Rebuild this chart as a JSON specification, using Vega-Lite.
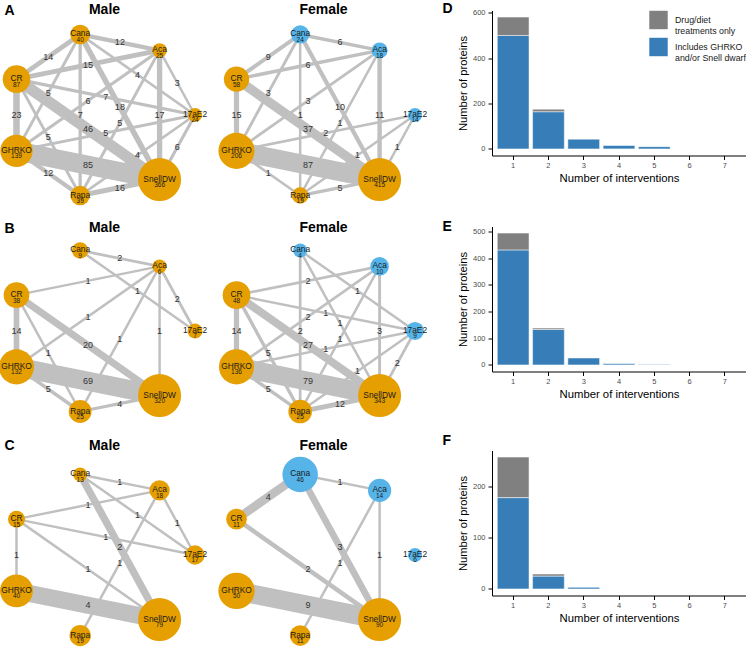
{
  "$schema": "https://vega.github.io/schema/vega-lite/v6.json",
  "padding": {"left": -22, "top": 1.5, "right": 0, "bottom": 0},
  "datasets": {
    "layout": [
      {"node": "17aE2", "cx": 1, "cy": 0},
      {"node": "Aca", "cx": 0.623, "cy": 0.782},
      {"node": "Cana", "cx": -0.223, "cy": 0.975},
      {"node": "CR", "cx": -0.901, "cy": 0.434},
      {"node": "GHRKO", "cx": -0.901, "cy": -0.434},
      {"node": "Rapa", "cx": -0.223, "cy": -0.975},
      {"node": "SnellDW", "cx": 0.623, "cy": -0.782}
    ],
    "nodes": [
      {"panel": "A", "sex": "Male", "node": "Cana", "proteins": 40, "effect": "Extends lifespan"},
      {"panel": "A", "sex": "Male", "node": "Aca", "proteins": 25, "effect": "Extends lifespan"},
      {"panel": "A", "sex": "Male", "node": "17aE2", "proteins": 24, "effect": "Extends lifespan"},
      {"panel": "A", "sex": "Male", "node": "SnellDW", "proteins": 366, "effect": "Extends lifespan"},
      {"panel": "A", "sex": "Male", "node": "Rapa", "proteins": 39, "effect": "Extends lifespan"},
      {"panel": "A", "sex": "Male", "node": "GHRKO", "proteins": 139, "effect": "Extends lifespan"},
      {"panel": "A", "sex": "Male", "node": "CR", "proteins": 87, "effect": "Extends lifespan"},
      {"panel": "A", "sex": "Female", "node": "Cana", "proteins": 24, "effect": "No extension"},
      {"panel": "A", "sex": "Female", "node": "Aca", "proteins": 18, "effect": "No extension"},
      {"panel": "A", "sex": "Female", "node": "17aE2", "proteins": 14, "effect": "No extension"},
      {"panel": "A", "sex": "Female", "node": "SnellDW", "proteins": 415, "effect": "Extends lifespan"},
      {"panel": "A", "sex": "Female", "node": "Rapa", "proteins": 19, "effect": "Extends lifespan"},
      {"panel": "A", "sex": "Female", "node": "GHRKO", "proteins": 206, "effect": "Extends lifespan"},
      {"panel": "A", "sex": "Female", "node": "CR", "proteins": 58, "effect": "Extends lifespan"},
      {"panel": "B", "sex": "Male", "node": "Cana", "proteins": 9, "effect": "Extends lifespan"},
      {"panel": "B", "sex": "Male", "node": "Aca", "proteins": 6, "effect": "Extends lifespan"},
      {"panel": "B", "sex": "Male", "node": "17aE2", "proteins": 7, "effect": "Extends lifespan"},
      {"panel": "B", "sex": "Male", "node": "SnellDW", "proteins": 320, "effect": "Extends lifespan"},
      {"panel": "B", "sex": "Male", "node": "Rapa", "proteins": 25, "effect": "Extends lifespan"},
      {"panel": "B", "sex": "Male", "node": "GHRKO", "proteins": 132, "effect": "Extends lifespan"},
      {"panel": "B", "sex": "Male", "node": "CR", "proteins": 38, "effect": "Extends lifespan"},
      {"panel": "B", "sex": "Female", "node": "Cana", "proteins": 4, "effect": "No extension"},
      {"panel": "B", "sex": "Female", "node": "Aca", "proteins": 10, "effect": "No extension"},
      {"panel": "B", "sex": "Female", "node": "17aE2", "proteins": 9, "effect": "No extension"},
      {"panel": "B", "sex": "Female", "node": "SnellDW", "proteins": 343, "effect": "Extends lifespan"},
      {"panel": "B", "sex": "Female", "node": "Rapa", "proteins": 25, "effect": "Extends lifespan"},
      {"panel": "B", "sex": "Female", "node": "GHRKO", "proteins": 136, "effect": "Extends lifespan"},
      {"panel": "B", "sex": "Female", "node": "CR", "proteins": 48, "effect": "Extends lifespan"},
      {"panel": "C", "sex": "Male", "node": "Cana", "proteins": 13, "effect": "Extends lifespan"},
      {"panel": "C", "sex": "Male", "node": "Aca", "proteins": 18, "effect": "Extends lifespan"},
      {"panel": "C", "sex": "Male", "node": "17aE2", "proteins": 17, "effect": "Extends lifespan"},
      {"panel": "C", "sex": "Male", "node": "SnellDW", "proteins": 79, "effect": "Extends lifespan"},
      {"panel": "C", "sex": "Male", "node": "Rapa", "proteins": 19, "effect": "Extends lifespan"},
      {"panel": "C", "sex": "Male", "node": "GHRKO", "proteins": 40, "effect": "Extends lifespan"},
      {"panel": "C", "sex": "Male", "node": "CR", "proteins": 15, "effect": "Extends lifespan"},
      {"panel": "C", "sex": "Female", "node": "Cana", "proteins": 46, "effect": "No extension"},
      {"panel": "C", "sex": "Female", "node": "Aca", "proteins": 14, "effect": "No extension"},
      {"panel": "C", "sex": "Female", "node": "17aE2", "proteins": 6, "effect": "No extension"},
      {"panel": "C", "sex": "Female", "node": "SnellDW", "proteins": 90, "effect": "Extends lifespan"},
      {"panel": "C", "sex": "Female", "node": "Rapa", "proteins": 11, "effect": "Extends lifespan"},
      {"panel": "C", "sex": "Female", "node": "GHRKO", "proteins": 50, "effect": "Extends lifespan"},
      {"panel": "C", "sex": "Female", "node": "CR", "proteins": 11, "effect": "Extends lifespan"}
    ],
    "edges": [
      {"panel": "A", "sex": "Male", "from": "CR", "to": "Cana", "shared": 14},
      {"panel": "A", "sex": "Male", "from": "Cana", "to": "Aca", "shared": 12},
      {"panel": "A", "sex": "Male", "from": "CR", "to": "Aca", "shared": 15},
      {"panel": "A", "sex": "Male", "from": "Cana", "to": "17aE2", "shared": 4},
      {"panel": "A", "sex": "Male", "from": "Aca", "to": "17aE2", "shared": 3},
      {"panel": "A", "sex": "Male", "from": "GHRKO", "to": "Cana", "shared": 5},
      {"panel": "A", "sex": "Male", "from": "CR", "to": "17aE2", "shared": 7},
      {"panel": "A", "sex": "Male", "from": "GHRKO", "to": "Aca", "shared": 6},
      {"panel": "A", "sex": "Male", "from": "Cana", "to": "Rapa", "shared": 7},
      {"panel": "A", "sex": "Male", "from": "Cana", "to": "SnellDW", "shared": 18},
      {"panel": "A", "sex": "Male", "from": "CR", "to": "GHRKO", "shared": 23},
      {"panel": "A", "sex": "Male", "from": "GHRKO", "to": "17aE2", "shared": 5},
      {"panel": "A", "sex": "Male", "from": "CR", "to": "SnellDW", "shared": 46},
      {"panel": "A", "sex": "Male", "from": "Aca", "to": "SnellDW", "shared": 17},
      {"panel": "A", "sex": "Male", "from": "Aca", "to": "Rapa", "shared": 5},
      {"panel": "A", "sex": "Male", "from": "CR", "to": "Rapa", "shared": 5},
      {"panel": "A", "sex": "Male", "from": "17aE2", "to": "SnellDW", "shared": 6},
      {"panel": "A", "sex": "Male", "from": "Rapa", "to": "17aE2", "shared": 4},
      {"panel": "A", "sex": "Male", "from": "GHRKO", "to": "SnellDW", "shared": 85},
      {"panel": "A", "sex": "Male", "from": "GHRKO", "to": "Rapa", "shared": 12},
      {"panel": "A", "sex": "Male", "from": "Rapa", "to": "SnellDW", "shared": 16},
      {"panel": "A", "sex": "Female", "from": "CR", "to": "Cana", "shared": 9},
      {"panel": "A", "sex": "Female", "from": "Cana", "to": "Aca", "shared": 6},
      {"panel": "A", "sex": "Female", "from": "CR", "to": "Aca", "shared": 6},
      {"panel": "A", "sex": "Female", "from": "GHRKO", "to": "Cana", "shared": 3},
      {"panel": "A", "sex": "Female", "from": "GHRKO", "to": "Aca", "shared": 3},
      {"panel": "A", "sex": "Female", "from": "Cana", "to": "Rapa", "shared": 1},
      {"panel": "A", "sex": "Female", "from": "Cana", "to": "SnellDW", "shared": 10},
      {"panel": "A", "sex": "Female", "from": "Aca", "to": "SnellDW", "shared": 11},
      {"panel": "A", "sex": "Female", "from": "CR", "to": "GHRKO", "shared": 15},
      {"panel": "A", "sex": "Female", "from": "CR", "to": "SnellDW", "shared": 37},
      {"panel": "A", "sex": "Female", "from": "GHRKO", "to": "17aE2", "shared": 2},
      {"panel": "A", "sex": "Female", "from": "Aca", "to": "Rapa", "shared": 1},
      {"panel": "A", "sex": "Female", "from": "17aE2", "to": "SnellDW", "shared": 1},
      {"panel": "A", "sex": "Female", "from": "Rapa", "to": "17aE2", "shared": 1},
      {"panel": "A", "sex": "Female", "from": "GHRKO", "to": "SnellDW", "shared": 87},
      {"panel": "A", "sex": "Female", "from": "GHRKO", "to": "Rapa", "shared": 1},
      {"panel": "A", "sex": "Female", "from": "Rapa", "to": "SnellDW", "shared": 5},
      {"panel": "B", "sex": "Male", "from": "Cana", "to": "Aca", "shared": 2},
      {"panel": "B", "sex": "Male", "from": "CR", "to": "Aca", "shared": 1},
      {"panel": "B", "sex": "Male", "from": "Cana", "to": "17aE2", "shared": 1},
      {"panel": "B", "sex": "Male", "from": "Aca", "to": "17aE2", "shared": 2},
      {"panel": "B", "sex": "Male", "from": "GHRKO", "to": "Aca", "shared": 1},
      {"panel": "B", "sex": "Male", "from": "CR", "to": "GHRKO", "shared": 14},
      {"panel": "B", "sex": "Male", "from": "CR", "to": "SnellDW", "shared": 20},
      {"panel": "B", "sex": "Male", "from": "Aca", "to": "Rapa", "shared": 1},
      {"panel": "B", "sex": "Male", "from": "Aca", "to": "SnellDW", "shared": 1},
      {"panel": "B", "sex": "Male", "from": "CR", "to": "Rapa", "shared": 1},
      {"panel": "B", "sex": "Male", "from": "GHRKO", "to": "SnellDW", "shared": 69},
      {"panel": "B", "sex": "Male", "from": "GHRKO", "to": "Rapa", "shared": 5},
      {"panel": "B", "sex": "Male", "from": "Rapa", "to": "SnellDW", "shared": 4},
      {"panel": "B", "sex": "Female", "from": "CR", "to": "Aca", "shared": 2},
      {"panel": "B", "sex": "Female", "from": "Cana", "to": "17aE2", "shared": 1},
      {"panel": "B", "sex": "Female", "from": "CR", "to": "17aE2", "shared": 1},
      {"panel": "B", "sex": "Female", "from": "GHRKO", "to": "Aca", "shared": 2},
      {"panel": "B", "sex": "Female", "from": "Cana", "to": "SnellDW", "shared": 1},
      {"panel": "B", "sex": "Female", "from": "Cana", "to": "Rapa", "shared": 2},
      {"panel": "B", "sex": "Female", "from": "Aca", "to": "SnellDW", "shared": 3},
      {"panel": "B", "sex": "Female", "from": "CR", "to": "GHRKO", "shared": 14},
      {"panel": "B", "sex": "Female", "from": "CR", "to": "SnellDW", "shared": 27},
      {"panel": "B", "sex": "Female", "from": "Aca", "to": "Rapa", "shared": 1},
      {"panel": "B", "sex": "Female", "from": "GHRKO", "to": "17aE2", "shared": 1},
      {"panel": "B", "sex": "Female", "from": "CR", "to": "Rapa", "shared": 5},
      {"panel": "B", "sex": "Female", "from": "17aE2", "to": "SnellDW", "shared": 2},
      {"panel": "B", "sex": "Female", "from": "Rapa", "to": "17aE2", "shared": 1},
      {"panel": "B", "sex": "Female", "from": "GHRKO", "to": "SnellDW", "shared": 79},
      {"panel": "B", "sex": "Female", "from": "GHRKO", "to": "Rapa", "shared": 5},
      {"panel": "B", "sex": "Female", "from": "Rapa", "to": "SnellDW", "shared": 12},
      {"panel": "C", "sex": "Male", "from": "Cana", "to": "Aca", "shared": 1},
      {"panel": "C", "sex": "Male", "from": "CR", "to": "Aca", "shared": 1},
      {"panel": "C", "sex": "Male", "from": "Cana", "to": "17aE2", "shared": 1},
      {"panel": "C", "sex": "Male", "from": "Aca", "to": "17aE2", "shared": 1},
      {"panel": "C", "sex": "Male", "from": "CR", "to": "17aE2", "shared": 1},
      {"panel": "C", "sex": "Male", "from": "Cana", "to": "SnellDW", "shared": 2},
      {"panel": "C", "sex": "Male", "from": "CR", "to": "GHRKO", "shared": 1},
      {"panel": "C", "sex": "Male", "from": "Aca", "to": "Rapa", "shared": 1},
      {"panel": "C", "sex": "Male", "from": "CR", "to": "SnellDW", "shared": 1},
      {"panel": "C", "sex": "Male", "from": "GHRKO", "to": "SnellDW", "shared": 4},
      {"panel": "C", "sex": "Female", "from": "Cana", "to": "Aca", "shared": 1},
      {"panel": "C", "sex": "Female", "from": "CR", "to": "Cana", "shared": 4},
      {"panel": "C", "sex": "Female", "from": "Cana", "to": "SnellDW", "shared": 3},
      {"panel": "C", "sex": "Female", "from": "Aca", "to": "Rapa", "shared": 1},
      {"panel": "C", "sex": "Female", "from": "Aca", "to": "SnellDW", "shared": 1},
      {"panel": "C", "sex": "Female", "from": "CR", "to": "SnellDW", "shared": 2},
      {"panel": "C", "sex": "Female", "from": "GHRKO", "to": "SnellDW", "shared": 9}
    ],
    "bars": [
      {"panel": "D", "interventions": 1, "category": "Includes GHRKO and/or Snell dwarf", "proteins": 500},
      {"panel": "D", "interventions": 1, "category": "Drug/diet treatments only", "proteins": 81},
      {"panel": "D", "interventions": 2, "category": "Includes GHRKO and/or Snell dwarf", "proteins": 164},
      {"panel": "D", "interventions": 2, "category": "Drug/diet treatments only", "proteins": 11},
      {"panel": "D", "interventions": 3, "category": "Includes GHRKO and/or Snell dwarf", "proteins": 43},
      {"panel": "D", "interventions": 4, "category": "Includes GHRKO and/or Snell dwarf", "proteins": 15},
      {"panel": "D", "interventions": 5, "category": "Includes GHRKO and/or Snell dwarf", "proteins": 10},
      {"panel": "D", "interventions": 6, "category": "Includes GHRKO and/or Snell dwarf", "proteins": 0},
      {"panel": "D", "interventions": 7, "category": "Includes GHRKO and/or Snell dwarf", "proteins": 0},
      {"panel": "E", "interventions": 1, "category": "Includes GHRKO and/or Snell dwarf", "proteins": 431},
      {"panel": "E", "interventions": 1, "category": "Drug/diet treatments only", "proteins": 63},
      {"panel": "E", "interventions": 2, "category": "Includes GHRKO and/or Snell dwarf", "proteins": 133},
      {"panel": "E", "interventions": 2, "category": "Drug/diet treatments only", "proteins": 5},
      {"panel": "E", "interventions": 3, "category": "Includes GHRKO and/or Snell dwarf", "proteins": 26},
      {"panel": "E", "interventions": 4, "category": "Includes GHRKO and/or Snell dwarf", "proteins": 5},
      {"panel": "E", "interventions": 5, "category": "Includes GHRKO and/or Snell dwarf", "proteins": 2},
      {"panel": "E", "interventions": 6, "category": "Includes GHRKO and/or Snell dwarf", "proteins": 0},
      {"panel": "E", "interventions": 7, "category": "Includes GHRKO and/or Snell dwarf", "proteins": 0},
      {"panel": "F", "interventions": 1, "category": "Includes GHRKO and/or Snell dwarf", "proteins": 178},
      {"panel": "F", "interventions": 1, "category": "Drug/diet treatments only", "proteins": 79},
      {"panel": "F", "interventions": 2, "category": "Includes GHRKO and/or Snell dwarf", "proteins": 25},
      {"panel": "F", "interventions": 2, "category": "Drug/diet treatments only", "proteins": 4},
      {"panel": "F", "interventions": 3, "category": "Includes GHRKO and/or Snell dwarf", "proteins": 3},
      {"panel": "F", "interventions": 4, "category": "Includes GHRKO and/or Snell dwarf", "proteins": 0},
      {"panel": "F", "interventions": 5, "category": "Includes GHRKO and/or Snell dwarf", "proteins": 0},
      {"panel": "F", "interventions": 6, "category": "Includes GHRKO and/or Snell dwarf", "proteins": 0},
      {"panel": "F", "interventions": 7, "category": "Includes GHRKO and/or Snell dwarf", "proteins": 0}
    ]
  },
  "columns": 3,
  "align": "each",
  "bounds": "flush",
  "spacing": {"row": 17, "column": 20},
  "resolve": {"scale": {"color": "independent", "size": "independent", "strokeWidth": "independent"}},
  "concat": [
    {
      "width": 200, "height": 199,
      "encoding": {
        "x": {"field": "cx", "type": "quantitative", "scale": {"domain": [-1.066, 1.064], "nice": false, "zero": false},
          "axis": {"orient": "top", "domain": false, "ticks": false, "labels": false, "grid": false, "minExtent": 0, "title": "Male", "titleFontSize": 14, "titleFontWeight": "bold", "titleColor": "black", "titleX": 103, "titleY": 3.3, "titleAlign": "center", "titleBaseline": "alphabetic"}},
        "y": {"field": "cy", "type": "quantitative", "scale": {"domain": [-1.144, 1.265], "nice": false, "zero": false},
          "axis": {"domain": false, "ticks": false, "labels": false, "grid": false, "minExtent": 0, "title": "A", "titleAngle": 0, "titleX": 3, "titleY": 4, "titleAlign": "left", "titleBaseline": "alphabetic", "titleFontSize": 14, "titleFontWeight": "bold", "titleColor": "black"}}
      },
      "layer": [
        {"data": {"name": "edges"},
         "transform": [{"filter": "datum.panel === 'A' && datum.sex === 'Male'"}, {"fold": ["from", "to"], "as": ["end", "node"]}, {"lookup": "node", "from": {"data": {"name": "layout"}, "key": "node", "fields": ["cx", "cy"]}}],
         "layer": [
           {"mark": {"type": "line", "color": "#C0C0C0", "strokeCap": "butt"}, "encoding": {"detail": [{"field": "from"}, {"field": "to"}], "strokeWidth": {"field": "shared", "type": "quantitative", "scale": {"zero": false, "range": [2.5, 19]}, "legend": null}}},
           {"transform": [{"aggregate": [{"op": "mean", "field": "cx", "as": "cx"}, {"op": "mean", "field": "cy", "as": "cy"}], "groupby": ["from", "to", "shared"]}],
            "mark": {"type": "text", "fontSize": 9, "color": "#333333"}, "encoding": {"text": {"field": "shared", "type": "quantitative"}}}
         ]},
        {"data": {"name": "nodes"},
         "transform": [{"filter": "datum.panel === 'A' && datum.sex === 'Male'"}, {"lookup": "node", "from": {"data": {"name": "layout"}, "key": "node", "fields": ["cx", "cy"]}}],
         "layer": [
           {"mark": {"type": "circle", "opacity": 1}, "encoding": {"size": {"field": "proteins", "type": "quantitative", "scale": {"type": "pow", "exponent": 0.4, "zero": false, "range": [196, 1850]}, "legend": null}, "color": {"field": "effect", "type": "nominal", "scale": {"domain": ["Extends lifespan", "No extension"], "range": ["#E69F00", "#56B4E9"]}, "legend": null}}},
           {"mark": {"type": "text", "fontSize": 8.4, "baseline": "alphabetic", "dy": 2, "color": "#1a1a1a"}, "encoding": {"text": {"field": "node"}}},
           {"mark": {"type": "text", "fontSize": 6.5, "baseline": "alphabetic", "dy": 7.5, "color": "#1a1a1a"}, "encoding": {"text": {"field": "proteins", "type": "quantitative"}}}
         ]}
      ]
    },
    {
      "width": 251, "height": 199,
      "encoding": {
        "x": {"field": "cx", "type": "quantitative", "scale": {"domain": [-1.066, 1.607], "nice": false, "zero": false},
          "axis": {"orient": "top", "domain": false, "ticks": false, "labels": false, "grid": false, "minExtent": 0, "title": "Female", "titleFontSize": 14, "titleFontWeight": "bold", "titleColor": "black", "titleX": 102, "titleY": 3, "titleAlign": "center", "titleBaseline": "alphabetic"}},
        "y": {"field": "cy", "type": "quantitative", "scale": {"domain": [-1.144, 1.265], "nice": false, "zero": false}, "axis": null}
      },
      "layer": [
        {"data": {"name": "edges"},
         "transform": [{"filter": "datum.panel === 'A' && datum.sex === 'Female'"}, {"fold": ["from", "to"], "as": ["end", "node"]}, {"lookup": "node", "from": {"data": {"name": "layout"}, "key": "node", "fields": ["cx", "cy"]}}],
         "layer": [
           {"mark": {"type": "line", "color": "#C0C0C0", "strokeCap": "butt"}, "encoding": {"detail": [{"field": "from"}, {"field": "to"}], "strokeWidth": {"field": "shared", "type": "quantitative", "scale": {"zero": false, "range": [2.5, 19]}, "legend": null}}},
           {"transform": [{"aggregate": [{"op": "mean", "field": "cx", "as": "cx"}, {"op": "mean", "field": "cy", "as": "cy"}], "groupby": ["from", "to", "shared"]}],
            "mark": {"type": "text", "fontSize": 9, "color": "#333333"}, "encoding": {"text": {"field": "shared", "type": "quantitative"}}}
         ]},
        {"data": {"name": "nodes"},
         "transform": [{"filter": "datum.panel === 'A' && datum.sex === 'Female'"}, {"lookup": "node", "from": {"data": {"name": "layout"}, "key": "node", "fields": ["cx", "cy"]}}],
         "layer": [
           {"mark": {"type": "circle", "opacity": 1}, "encoding": {"size": {"field": "proteins", "type": "quantitative", "scale": {"type": "pow", "exponent": 0.4, "zero": false, "range": [196, 1850]}, "legend": null}, "color": {"field": "effect", "type": "nominal", "scale": {"domain": ["Extends lifespan", "No extension"], "range": ["#E69F00", "#56B4E9"]}, "legend": null}}},
           {"mark": {"type": "text", "fontSize": 8.4, "baseline": "alphabetic", "dy": 2, "color": "#1a1a1a"}, "encoding": {"text": {"field": "node"}}},
           {"mark": {"type": "text", "fontSize": 6.5, "baseline": "alphabetic", "dy": 7.5, "color": "#1a1a1a"}, "encoding": {"text": {"field": "proteins", "type": "quantitative"}}}
         ]}
      ]
    },
    {
      "width": 254, "height": 145,
      "title": {"text": "D", "anchor": "start", "frame": "bounds", "fontSize": 14, "fontWeight": "bold", "color": "black", "offset": -18, "baseline": "alphabetic", "dx": -15},
      "data": {"name": "bars"},
      "transform": [{"filter": "datum.panel === 'D'"}],
      "mark": {"type": "bar", "stroke": "white", "strokeWidth": 0.5},
      "encoding": {
        "x": {"field": "interventions", "type": "ordinal", "scale": {"domain": [1, 2, 3, 4, 5, 6, 7], "paddingInner": 0.1, "paddingOuter": 0.15},
          "axis": {"title": "Number of interventions", "labelAngle": 0, "labelFontSize": 7.5, "labelColor": "#4D4D4D", "labelPadding": 2, "tickSize": 4, "tickColor": "black", "domainColor": "black", "titleFontSize": 11.3, "titleFontWeight": "normal", "titleColor": "black", "titlePadding": 3, "bandPosition": 0.5}},
        "y": {"field": "proteins", "type": "quantitative", "stack": "zero", "scale": {"domain": [-29, 610], "nice": false, "zero": false},
          "axis": {"values": [0, 200, 400, 600], "title": "Number of proteins", "labelFontSize": 7.5, "labelColor": "#4D4D4D", "labelPadding": 3, "tickSize": 4, "tickColor": "black", "domainColor": "black", "titleFontSize": 11.2, "titleFontWeight": "normal", "titleColor": "black", "titlePadding": 4}},
        "color": {"field": "category", "type": "nominal", "scale": {"domain": ["Drug/diet treatments only", "Includes GHRKO and/or Snell dwarf"], "range": ["#808080", "#377EB8"]},
          "legend": {"orient": "top-right", "offset": 0, "padding": 0, "title": null, "symbolType": "square", "symbolSize": 340, "symbolStrokeWidth": 0, "symbolOpacity": 1, "labelFontSize": 8.8, "labelColor": "#1a1a1a", "labelOffset": 7, "labelLimit": 200, "rowPadding": 1,
            "labelExpr": "datum.label == 'Drug/diet treatments only' ? ['Drug/diet', 'treatments only'] : ['Includes GHRKO', 'and/or Snell dwarf']"}},
        "order": {"field": "category", "sort": "descending"}
      }
    },
    {
      "width": 200, "height": 207,
      "encoding": {
        "x": {"field": "cx", "type": "quantitative", "scale": {"domain": [-1.066, 1.064], "nice": false, "zero": false},
          "axis": {"orient": "top", "domain": false, "ticks": false, "labels": false, "grid": false, "minExtent": 0, "title": "Male", "titleFontSize": 14, "titleFontWeight": "bold", "titleColor": "black", "titleX": 103, "titleY": 5.3, "titleAlign": "center", "titleBaseline": "alphabetic"}},
        "y": {"field": "cy", "type": "quantitative", "scale": {"domain": [-1.241, 1.265], "nice": false, "zero": false},
          "axis": {"domain": false, "ticks": false, "labels": false, "grid": false, "minExtent": 0, "title": "B", "titleAngle": 0, "titleX": 3, "titleY": 6, "titleAlign": "left", "titleBaseline": "alphabetic", "titleFontSize": 14, "titleFontWeight": "bold", "titleColor": "black"}}
      },
      "layer": [
        {"data": {"name": "edges"},
         "transform": [{"filter": "datum.panel === 'B' && datum.sex === 'Male'"}, {"fold": ["from", "to"], "as": ["end", "node"]}, {"lookup": "node", "from": {"data": {"name": "layout"}, "key": "node", "fields": ["cx", "cy"]}}],
         "layer": [
           {"mark": {"type": "line", "color": "#C0C0C0", "strokeCap": "butt"}, "encoding": {"detail": [{"field": "from"}, {"field": "to"}], "strokeWidth": {"field": "shared", "type": "quantitative", "scale": {"zero": false, "range": [2.5, 19]}, "legend": null}}},
           {"transform": [{"aggregate": [{"op": "mean", "field": "cx", "as": "cx"}, {"op": "mean", "field": "cy", "as": "cy"}], "groupby": ["from", "to", "shared"]}],
            "mark": {"type": "text", "fontSize": 9, "color": "#333333"}, "encoding": {"text": {"field": "shared", "type": "quantitative"}}}
         ]},
        {"data": {"name": "nodes"},
         "transform": [{"filter": "datum.panel === 'B' && datum.sex === 'Male'"}, {"lookup": "node", "from": {"data": {"name": "layout"}, "key": "node", "fields": ["cx", "cy"]}}],
         "layer": [
           {"mark": {"type": "circle", "opacity": 1}, "encoding": {"size": {"field": "proteins", "type": "quantitative", "scale": {"type": "pow", "exponent": 0.4, "zero": false, "range": [196, 1850]}, "legend": null}, "color": {"field": "effect", "type": "nominal", "scale": {"domain": ["Extends lifespan", "No extension"], "range": ["#E69F00", "#56B4E9"]}, "legend": null}}},
           {"mark": {"type": "text", "fontSize": 8.4, "baseline": "alphabetic", "dy": 2, "color": "#1a1a1a"}, "encoding": {"text": {"field": "node"}}},
           {"mark": {"type": "text", "fontSize": 6.5, "baseline": "alphabetic", "dy": 7.5, "color": "#1a1a1a"}, "encoding": {"text": {"field": "proteins", "type": "quantitative"}}}
         ]}
      ]
    },
    {
      "width": 251, "height": 207,
      "encoding": {
        "x": {"field": "cx", "type": "quantitative", "scale": {"domain": [-1.066, 1.607], "nice": false, "zero": false},
          "axis": {"orient": "top", "domain": false, "ticks": false, "labels": false, "grid": false, "minExtent": 0, "title": "Female", "titleFontSize": 14, "titleFontWeight": "bold", "titleColor": "black", "titleX": 102, "titleY": 5.3, "titleAlign": "center", "titleBaseline": "alphabetic"}},
        "y": {"field": "cy", "type": "quantitative", "scale": {"domain": [-1.241, 1.265], "nice": false, "zero": false}, "axis": null}
      },
      "layer": [
        {"data": {"name": "edges"},
         "transform": [{"filter": "datum.panel === 'B' && datum.sex === 'Female'"}, {"fold": ["from", "to"], "as": ["end", "node"]}, {"lookup": "node", "from": {"data": {"name": "layout"}, "key": "node", "fields": ["cx", "cy"]}}],
         "layer": [
           {"mark": {"type": "line", "color": "#C0C0C0", "strokeCap": "butt"}, "encoding": {"detail": [{"field": "from"}, {"field": "to"}], "strokeWidth": {"field": "shared", "type": "quantitative", "scale": {"zero": false, "range": [2.5, 19]}, "legend": null}}},
           {"transform": [{"aggregate": [{"op": "mean", "field": "cx", "as": "cx"}, {"op": "mean", "field": "cy", "as": "cy"}], "groupby": ["from", "to", "shared"]}],
            "mark": {"type": "text", "fontSize": 9, "color": "#333333"}, "encoding": {"text": {"field": "shared", "type": "quantitative"}}}
         ]},
        {"data": {"name": "nodes"},
         "transform": [{"filter": "datum.panel === 'B' && datum.sex === 'Female'"}, {"lookup": "node", "from": {"data": {"name": "layout"}, "key": "node", "fields": ["cx", "cy"]}}],
         "layer": [
           {"mark": {"type": "circle", "opacity": 1}, "encoding": {"size": {"field": "proteins", "type": "quantitative", "scale": {"type": "pow", "exponent": 0.4, "zero": false, "range": [196, 1850]}, "legend": null}, "color": {"field": "effect", "type": "nominal", "scale": {"domain": ["Extends lifespan", "No extension"], "range": ["#E69F00", "#56B4E9"]}, "legend": null}}},
           {"mark": {"type": "text", "fontSize": 8.4, "baseline": "alphabetic", "dy": 2, "color": "#1a1a1a"}, "encoding": {"text": {"field": "node"}}},
           {"mark": {"type": "text", "fontSize": 6.5, "baseline": "alphabetic", "dy": 7.5, "color": "#1a1a1a"}, "encoding": {"text": {"field": "proteins", "type": "quantitative"}}}
         ]}
      ]
    },
    {
      "width": 254, "height": 145,
      "title": {"text": "E", "anchor": "start", "frame": "bounds", "fontSize": 14, "fontWeight": "bold", "color": "black", "offset": -18, "baseline": "alphabetic", "dx": -15},
      "data": {"name": "bars"},
      "transform": [{"filter": "datum.panel === 'E'"}],
      "mark": {"type": "bar", "stroke": "white", "strokeWidth": 0.5},
      "encoding": {
        "x": {"field": "interventions", "type": "ordinal", "scale": {"domain": [1, 2, 3, 4, 5, 6, 7], "paddingInner": 0.1, "paddingOuter": 0.15},
          "axis": {"title": "Number of interventions", "labelAngle": 0, "labelFontSize": 7.5, "labelColor": "#4D4D4D", "labelPadding": 2, "tickSize": 4, "tickColor": "black", "domainColor": "black", "titleFontSize": 11.3, "titleFontWeight": "normal", "titleColor": "black", "titlePadding": 3, "bandPosition": 0.5}},
        "y": {"field": "proteins", "type": "quantitative", "stack": "zero", "scale": {"domain": [-24.7, 518.7], "nice": false, "zero": false},
          "axis": {"values": [0, 100, 200, 300, 400, 500], "title": "Number of proteins", "labelFontSize": 7.5, "labelColor": "#4D4D4D", "labelPadding": 3, "tickSize": 4, "tickColor": "black", "domainColor": "black", "titleFontSize": 11.2, "titleFontWeight": "normal", "titleColor": "black", "titlePadding": 4}},
        "color": {"field": "category", "type": "nominal", "scale": {"domain": ["Drug/diet treatments only", "Includes GHRKO and/or Snell dwarf"], "range": ["#808080", "#377EB8"]}, "legend": null},
        "order": {"field": "category", "sort": "descending"}
      }
    },
    {
      "width": 200, "height": 199,
      "encoding": {
        "x": {"field": "cx", "type": "quantitative", "scale": {"domain": [-1.066, 1.064], "nice": false, "zero": false},
          "axis": {"orient": "top", "domain": false, "ticks": false, "labels": false, "grid": false, "minExtent": 0, "title": "Male", "titleFontSize": 14, "titleFontWeight": "bold", "titleColor": "black", "titleX": 103, "titleY": -1.3, "titleAlign": "center", "titleBaseline": "alphabetic"}},
        "y": {"field": "cy", "type": "quantitative", "scale": {"domain": [-1.144, 1.265], "nice": false, "zero": false},
          "axis": {"domain": false, "ticks": false, "labels": false, "grid": false, "minExtent": 0, "title": "C", "titleAngle": 0, "titleX": 3, "titleY": -1, "titleAlign": "left", "titleBaseline": "alphabetic", "titleFontSize": 14, "titleFontWeight": "bold", "titleColor": "black"}}
      },
      "layer": [
        {"data": {"name": "edges"},
         "transform": [{"filter": "datum.panel === 'C' && datum.sex === 'Male'"}, {"fold": ["from", "to"], "as": ["end", "node"]}, {"lookup": "node", "from": {"data": {"name": "layout"}, "key": "node", "fields": ["cx", "cy"]}}],
         "layer": [
           {"mark": {"type": "line", "color": "#C0C0C0", "strokeCap": "butt"}, "encoding": {"detail": [{"field": "from"}, {"field": "to"}], "strokeWidth": {"field": "shared", "type": "quantitative", "scale": {"zero": false, "range": [2.5, 17]}, "legend": null}}},
           {"transform": [{"aggregate": [{"op": "mean", "field": "cx", "as": "cx"}, {"op": "mean", "field": "cy", "as": "cy"}], "groupby": ["from", "to", "shared"]}],
            "mark": {"type": "text", "fontSize": 9, "color": "#333333"}, "encoding": {"text": {"field": "shared", "type": "quantitative"}}}
         ]},
        {"data": {"name": "nodes"},
         "transform": [{"filter": "datum.panel === 'C' && datum.sex === 'Male'"}, {"lookup": "node", "from": {"data": {"name": "layout"}, "key": "node", "fields": ["cx", "cy"]}}],
         "layer": [
           {"mark": {"type": "circle", "opacity": 1}, "encoding": {"size": {"field": "proteins", "type": "quantitative", "scale": {"type": "pow", "exponent": 0.4, "zero": false, "range": [196, 1850]}, "legend": null}, "color": {"field": "effect", "type": "nominal", "scale": {"domain": ["Extends lifespan", "No extension"], "range": ["#E69F00", "#56B4E9"]}, "legend": null}}},
           {"mark": {"type": "text", "fontSize": 8.4, "baseline": "alphabetic", "dy": 2, "color": "#1a1a1a"}, "encoding": {"text": {"field": "node"}}},
           {"mark": {"type": "text", "fontSize": 6.5, "baseline": "alphabetic", "dy": 7.5, "color": "#1a1a1a"}, "encoding": {"text": {"field": "proteins", "type": "quantitative"}}}
         ]}
      ]
    },
    {
      "width": 251, "height": 199,
      "encoding": {
        "x": {"field": "cx", "type": "quantitative", "scale": {"domain": [-1.066, 1.607], "nice": false, "zero": false},
          "axis": {"orient": "top", "domain": false, "ticks": false, "labels": false, "grid": false, "minExtent": 0, "title": "Female", "titleFontSize": 14, "titleFontWeight": "bold", "titleColor": "black", "titleX": 102, "titleY": -1, "titleAlign": "center", "titleBaseline": "alphabetic"}},
        "y": {"field": "cy", "type": "quantitative", "scale": {"domain": [-1.144, 1.265], "nice": false, "zero": false}, "axis": null}
      },
      "layer": [
        {"data": {"name": "edges"},
         "transform": [{"filter": "datum.panel === 'C' && datum.sex === 'Female'"}, {"fold": ["from", "to"], "as": ["end", "node"]}, {"lookup": "node", "from": {"data": {"name": "layout"}, "key": "node", "fields": ["cx", "cy"]}}],
         "layer": [
           {"mark": {"type": "line", "color": "#C0C0C0", "strokeCap": "butt"}, "encoding": {"detail": [{"field": "from"}, {"field": "to"}], "strokeWidth": {"field": "shared", "type": "quantitative", "scale": {"zero": false, "range": [2.5, 19]}, "legend": null}}},
           {"transform": [{"aggregate": [{"op": "mean", "field": "cx", "as": "cx"}, {"op": "mean", "field": "cy", "as": "cy"}], "groupby": ["from", "to", "shared"]}],
            "mark": {"type": "text", "fontSize": 9, "color": "#333333"}, "encoding": {"text": {"field": "shared", "type": "quantitative"}}}
         ]},
        {"data": {"name": "nodes"},
         "transform": [{"filter": "datum.panel === 'C' && datum.sex === 'Female'"}, {"lookup": "node", "from": {"data": {"name": "layout"}, "key": "node", "fields": ["cx", "cy"]}}],
         "layer": [
           {"mark": {"type": "circle", "opacity": 1}, "encoding": {"size": {"field": "proteins", "type": "quantitative", "scale": {"type": "pow", "exponent": 0.4, "zero": false, "range": [196, 1850]}, "legend": null}, "color": {"field": "effect", "type": "nominal", "scale": {"domain": ["Extends lifespan", "No extension"], "range": ["#E69F00", "#56B4E9"]}, "legend": null}}},
           {"mark": {"type": "text", "fontSize": 8.4, "baseline": "alphabetic", "dy": 2, "color": "#1a1a1a"}, "encoding": {"text": {"field": "node"}}},
           {"mark": {"type": "text", "fontSize": 6.5, "baseline": "alphabetic", "dy": 7.5, "color": "#1a1a1a"}, "encoding": {"text": {"field": "proteins", "type": "quantitative"}}}
         ]}
      ]
    },
    {
      "width": 254, "height": 145,
      "title": {"text": "F", "anchor": "start", "frame": "bounds", "fontSize": 14, "fontWeight": "bold", "color": "black", "offset": -8, "baseline": "alphabetic", "dx": -15},
      "data": {"name": "bars"},
      "transform": [{"filter": "datum.panel === 'F'"}],
      "mark": {"type": "bar", "stroke": "white", "strokeWidth": 0.5},
      "encoding": {
        "x": {"field": "interventions", "type": "ordinal", "scale": {"domain": [1, 2, 3, 4, 5, 6, 7], "paddingInner": 0.1, "paddingOuter": 0.15},
          "axis": {"title": "Number of interventions", "labelAngle": 0, "labelFontSize": 7.5, "labelColor": "#4D4D4D", "labelPadding": 2, "tickSize": 4, "tickColor": "black", "domainColor": "black", "titleFontSize": 11.3, "titleFontWeight": "normal", "titleColor": "black", "titlePadding": 3, "bandPosition": 0.5}},
        "y": {"field": "proteins", "type": "quantitative", "stack": "zero", "scale": {"domain": [-12.85, 269.85], "nice": false, "zero": false},
          "axis": {"values": [0, 100, 200], "title": "Number of proteins", "labelFontSize": 7.5, "labelColor": "#4D4D4D", "labelPadding": 3, "tickSize": 4, "tickColor": "black", "domainColor": "black", "titleFontSize": 11.2, "titleFontWeight": "normal", "titleColor": "black", "titlePadding": 4}},
        "color": {"field": "category", "type": "nominal", "scale": {"domain": ["Drug/diet treatments only", "Includes GHRKO and/or Snell dwarf"], "range": ["#808080", "#377EB8"]}, "legend": null},
        "order": {"field": "category", "sort": "descending"}
      }
    }
  ],
  "config": {
    "font": "Liberation Sans",
    "view": {"stroke": null},
    "axis": {"grid": false, "minExtent": 0}
  }
}
